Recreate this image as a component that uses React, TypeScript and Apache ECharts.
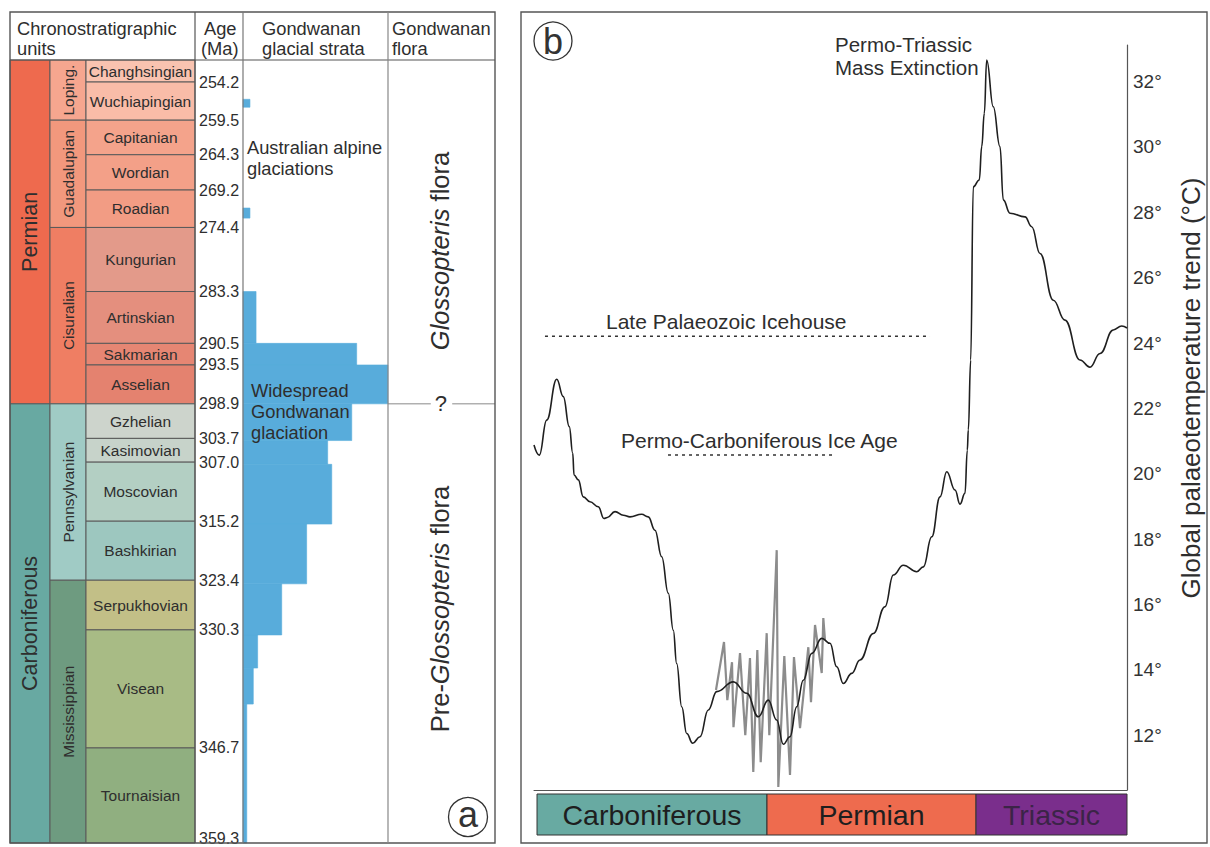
import React, { useEffect, useRef } from "react";
import * as echarts from "echarts";

const FONT = '"Liberation Sans", Arial, Helvetica, sans-serif';
const TEXT = "#2e2e2e";
const EDGE = "#5a5a5a";
const BLUE = "#58ACDB";

// ---------- Panel a : chronostratigraphy (ages in Ma) ----------
const AGE_TOP = 251.14;
const AGE_BOTTOM = 359.9;

const periodNames = ["Permian", "Carboniferous"];
const periodBases = [298.9, 359.3];
const periodColors = ["#EE6A4E", "#68A9A2"];

const epochNames = ["Loping.", "Guadalupian", "Cisuralian", "Pennsylvanian", "Mississippian"];
const epochBases = [259.5, 274.4, 298.9, 323.4, 359.3];
const epochColors = ["#F6A68F", "#F2987D", "#EF7E63", "#A0CBC5", "#6E9B80"];

const stageNames = [
  "Changhsingian", "Wuchiapingian", "Capitanian", "Wordian", "Roadian", "Kungurian",
  "Artinskian", "Sakmarian", "Asselian", "Gzhelian", "Kasimovian", "Moscovian",
  "Bashkirian", "Serpukhovian", "Visean", "Tournaisian",
];
const stageBases = [
  254.2, 259.5, 264.3, 269.2, 274.4, 283.3, 290.5, 293.5, 298.9, 303.7, 307.0, 315.2,
  323.4, 330.3, 346.7, 359.3,
];
const stageColors = [
  "#F9C3B0", "#F9BCA8", "#F4A38B", "#F3A088", "#F29C84", "#E39A8A", "#E48F7E", "#E68673",
  "#E4826F", "#CDD4CC", "#C7D3CA", "#B3CFC3", "#9DC7BF", "#C2BF87", "#A8BB85", "#90AF80",
];

// Gondwanan glacial strata: top age, base age, lateral extent (% of column)
const glacialTops = [256.6, 271.7, 283.3, 290.5, 293.5, 298.9, 304.0, 307.3, 315.6, 323.9, 331.0, 335.6, 340.6];
const glacialBases = [257.7, 273.1, 290.5, 293.5, 298.9, 304.0, 307.3, 315.6, 323.9, 331.0, 335.6, 340.6, 359.9];
const glacialExtent = [4.8, 4.8, 9, 78.4, 100, 75, 58.4, 61.2, 43.9, 26.7, 10.1, 7.1, 2.6];

const floraBoundary = 298.9;

// ---------- Panel b : palaeotemperature (relative time 0-100) ----------
const TEMP_MIN = 10.32;
const TEMP_MAX = 33.12;
const tempTicks = [12, 14, 16, 18, 20, 22, 24, 26, 28, 30, 32];

const barNames = ["Carboniferous", "Permian", "Triassic"];
const barStart = [0.51, 39.29, 74.54];
const barEnd = [39.29, 74.54, 100];
const barColors = ["#68AAA2", "#EE6B4E", "#7A2E8C"];
const barTextColors = ["#1e1e1e", "#1e1e1e", "#3b2447"];

const trendX = [
  0, 0.89, 2.14, 3.83, 4.94, 5.95, 6.53, 6.75, 7.47, 8.31, 9.44, 10.84, 11.8, 12.36, 13.66,
  15.06, 16.19, 18.16, 19.27, 20.4, 21.53, 22.65, 23.49, 24.06, 24.91, 25.75, 26.76, 27.99,
  29.39, 30.81, 33.61, 35.87, 37.83, 39.51, 40.93, 42.04, 43.17, 44.3, 45.41, 46.83, 48.52,
  49.92, 51.05, 52.16, 53.58, 54.97, 57.22, 59.19, 60.59, 62.28, 64.54, 65.65, 67.07, 68.47,
  69.6, 71.0, 71.84, 72.68, 73.07, 73.24, 73.64, 74.08, 75.09, 75.5, 75.94, 76.34, 77.45,
  78.58, 79.14, 80.27, 82.8, 83.93, 85.33, 87.57, 89.54, 92.07, 93.76, 95.45, 97.69, 99.11, 100,
];
const trendT = [
  20.88, 20.57, 21.64, 22.89, 22.36, 21.44, 20.63, 19.96, 19.81, 19.29, 19.14, 18.99, 18.63,
  18.66, 18.84, 18.73, 18.68, 18.76, 18.68, 18.27, 17.46, 16.34, 15.21, 14.19, 12.87, 12.05,
  11.75, 11.95, 12.77, 13.33, 13.63, 13.28, 12.56, 13.07, 12.46, 11.72, 11.95, 12.87, 13.68,
  14.5, 14.96, 14.81, 14.09, 13.58, 13.89, 14.3, 15.11, 15.93, 16.9, 17.2, 17.0, 17.15, 18.07,
  19.29, 20.06, 19.5, 19.07, 19.4, 20.72, 21.34, 23.48, 28.78, 28.99, 30.01, 31.03, 32.66,
  31.23, 30.01, 28.38, 27.97, 27.86, 27.56, 26.74, 25.31, 24.7, 23.48, 23.26, 23.68, 24.4,
  24.52, 24.46,
];

const fluctX = [
  30.69, 32.04, 32.6, 33.39, 33.64, 34.74, 35.63, 36.42, 36.98, 37.66, 38.23, 39.24, 39.68,
  40.93, 41.2, 42.21, 43.17, 43.84, 44.86, 46.26, 46.71, 47.39, 48.52, 48.79, 49.07,
];
const fluctT = [
  13.38, 14.85, 13.07, 14.23, 12.24, 14.51, 12.0, 14.36, 10.87, 14.6, 11.17, 15.12, 12.0,
  17.66, 10.41, 14.42, 10.78, 14.39, 12.21, 14.69, 13.01, 15.37, 13.9, 15.58, 14.91,
];

const icehouseX = [1.85, 66.78];
const icehouseT = 24.21;
const iceAgeX = [22.6, 50.93];
const iceAgeT = 20.57;

function intervals(bases: number[]) {
  const tops = [AGE_TOP, ...bases.slice(0, -1)];
  const bottoms = [...bases.slice(0, -1), AGE_BOTTOM];
  return tops.map((t, i) => [0, t, bottoms[i]]);
}

function txtStyle(text: string, size: number, fill = TEXT, extra: any = {}) {
  return {
    text,
    fill,
    fontSize: size,
    fontFamily: FONT,
    align: "center",
    verticalAlign: "middle",
    textAlign: "center",
    textVerticalAlign: "middle",
    ...extra,
  };
}

function unitSeries(gi: number, names: string[], bases: number[], fills: string[], size: number, rotate: boolean) {
  return {
    type: "custom",
    xAxisIndex: gi,
    yAxisIndex: gi,
    silent: true,
    data: intervals(bases),
    encode: { x: 0, y: [1, 2] },
    renderItem: (params: any, api: any) => {
      const i = params.dataIndex;
      const p0 = api.coord([0, api.value(1)]);
      const p1 = api.coord([1, api.value(2)]);
      const w = p1[0] - p0[0];
      const h = p1[1] - p0[1];
      return {
        type: "group",
        children: [
          { type: "rect", shape: { x: p0[0], y: p0[1], width: w, height: h }, style: { fill: fills[i], stroke: EDGE, lineWidth: 1 } },
          {
            type: "text",
            x: p0[0] + w / 2,
            y: p0[1] + h / 2,
            rotation: rotate ? Math.PI / 2 : 0,
            style: txtStyle(names[i], size),
          },
        ],
      };
    },
  };
}

function gText(x: number, y: number, text: string, size: number, extra: any = {}) {
  return {
    type: "text",
    x,
    y,
    z: 100,
    style: {
      text,
      fill: TEXT,
      fontSize: size,
      fontFamily: FONT,
      align: "left",
      verticalAlign: "middle",
      textAlign: "left",
      textVerticalAlign: "middle",
      ...extra,
    },
  };
}

function gLine(x1: number, y1: number, x2: number, y2: number, stroke = EDGE, w = 1) {
  return { type: "line", z: 100, shape: { x1, y1, x2, y2 }, style: { stroke, lineWidth: w } };
}

export default function App() {
  const ref = useRef<HTMLDivElement>(null);

  useEffect(() => {
    document.body.style.margin = "0";
    if (!ref.current) return;
    const chart = echarts.init(ref.current, null, { renderer: "svg" });

    const colGrids = [
      { left: 10, width: 40 },
      { left: 50, width: 36 },
      { left: 86, width: 109 },
      { left: 195, width: 48 },
      { left: 243, width: 145 },
      { left: 388, width: 107 },
    ];
    const grid: any[] = colGrids.map((g) => ({ ...g, top: 60, height: 783 }));
    grid.push({ left: 534, width: 593, top: 45, height: 745 });
    grid.push({ left: 534, width: 593, top: 794, height: 41 });

    const xAxis: any[] = colGrids.map((_, i) => ({
      gridIndex: i, type: "value", min: 0, max: i === 4 ? 100 : 1, show: false,
    }));
    xAxis.push({
      gridIndex: 6, type: "value", min: 0, max: 100,
      axisLine: { show: true, lineStyle: { color: "#555", width: 1 } },
      axisTick: { show: false }, axisLabel: { show: false }, splitLine: { show: false },
    });
    xAxis.push({ gridIndex: 7, type: "value", min: 0, max: 100, show: false });

    const yAxis: any[] = colGrids.map((_, i) => ({
      gridIndex: i, type: "value", min: AGE_TOP, max: AGE_BOTTOM, inverse: true, show: false,
    }));
    yAxis.push({
      gridIndex: 6, type: "value", position: "right", min: TEMP_MIN, max: TEMP_MAX,
      axisLine: { show: true, onZero: false, lineStyle: { color: "#555", width: 1.2 } },
      axisTick: { show: false },
      splitLine: { show: false },
      axisLabel: {
        customValues: tempTicks,
        formatter: (v: number) => `${v}°`,
        fontSize: 19, color: "#333", fontFamily: FONT, margin: 6,
      },
    });
    yAxis.push({ gridIndex: 7, type: "value", min: 0, max: 1, show: false });

    const series: any[] = [
      unitSeries(0, periodNames, periodBases, periodColors, 21.5, true),
      unitSeries(1, epochNames, epochBases, epochColors, 15.5, true),
      unitSeries(2, stageNames, stageBases, stageColors, 15.5, false),
      {
        type: "custom", xAxisIndex: 3, yAxisIndex: 3, silent: true,
        data: stageBases.map((v) => [0.5, v]),
        renderItem: (params: any, api: any) => {
          const p = api.coord([0.5, api.value(1)]);
          return { type: "text", x: p[0], y: p[1], style: txtStyle(stageBases[params.dataIndex].toFixed(1), 16) };
        },
      },
      {
        type: "custom", xAxisIndex: 4, yAxisIndex: 4, silent: true,
        data: glacialTops.map((t, i) => [glacialExtent[i], t, glacialBases[i]]),
        encode: { x: 0, y: [1, 2] },
        renderItem: (params: any, api: any) => {
          const p0 = api.coord([0, api.value(1)]);
          const p1 = api.coord([api.value(0), api.value(2)]);
          return {
            type: "rect",
            shape: { x: p0[0], y: p0[1], width: p1[0] - p0[0], height: p1[1] - p0[1] },
            style: { fill: BLUE, stroke: BLUE, lineWidth: 0.6 },
          };
        },
      },
      {
        type: "custom", xAxisIndex: 5, yAxisIndex: 5, silent: true,
        data: [[0, floraBoundary]],
        renderItem: (params: any, api: any) => {
          const a = api.coord([0, api.value(1)]);
          const b = api.coord([0.4, api.value(1)]);
          const c = api.coord([0.6, api.value(1)]);
          const d = api.coord([1, api.value(1)]);
          const m = api.coord([0.495, api.value(1)]);
          return {
            type: "group",
            children: [
              { type: "line", shape: { x1: a[0], y1: a[1], x2: b[0], y2: b[1] }, style: { stroke: "#8a8a8a", lineWidth: 1 } },
              { type: "line", shape: { x1: c[0], y1: c[1], x2: d[0], y2: d[1] }, style: { stroke: "#8a8a8a", lineWidth: 1 } },
              { type: "text", x: m[0], y: m[1], style: txtStyle("?", 22) },
            ],
          };
        },
      },
      {
        type: "line", xAxisIndex: 6, yAxisIndex: 6, silent: true, z: 2,
        data: fluctX.map((x, i) => [x, fluctT[i]]),
        symbol: "none", smooth: false,
        lineStyle: { color: "#8c8c8c", width: 2.2 },
      },
      {
        type: "line", xAxisIndex: 6, yAxisIndex: 6, silent: true, z: 3,
        data: trendX.map((x, i) => [x, trendT[i]]),
        symbol: "none", smooth: 0.45, smoothMonotone: "x",
        lineStyle: { color: "#1f1f1f", width: 1.6 },
      },
      {
        type: "line", xAxisIndex: 6, yAxisIndex: 6, silent: true, z: 3,
        data: icehouseX.map((x) => [x, icehouseT]),
        symbol: "none",
        lineStyle: { color: "#333", width: 1.5, type: [3, 4] },
      },
      {
        type: "line", xAxisIndex: 6, yAxisIndex: 6, silent: true, z: 3,
        data: iceAgeX.map((x) => [x, iceAgeT]),
        symbol: "none",
        lineStyle: { color: "#333", width: 1.5, type: [3, 4] },
      },
      {
        type: "custom", xAxisIndex: 7, yAxisIndex: 7, silent: true,
        data: barNames.map((_, i) => [barStart[i], barEnd[i]]),
        encode: { x: [0, 1] },
        renderItem: (params: any, api: any) => {
          const i = params.dataIndex;
          const p0 = api.coord([api.value(0), 1]);
          const p1 = api.coord([api.value(1), 0]);
          const w = p1[0] - p0[0];
          const h = p1[1] - p0[1];
          return {
            type: "group",
            children: [
              { type: "rect", shape: { x: p0[0], y: p0[1], width: w, height: h }, style: { fill: barColors[i], stroke: "#333", lineWidth: 1 } },
              { type: "text", x: p0[0] + w / 2, y: p0[1] + h / 2, style: txtStyle(barNames[i], 28.5, barTextColors[i]) },
            ],
          };
        },
      },
    ];

    const graphic: any[] = [
      // panel a frame
      { type: "rect", z: 100, shape: { x: 10, y: 12, width: 485, height: 831 }, style: { fill: "none", stroke: "#555", lineWidth: 1.4 } },
      gLine(10, 60, 495, 60, "#555", 1.2),
      gLine(195, 12, 195, 843, "#555", 1.2),
      gLine(243, 12, 243, 843, "#777", 1.2),
      gLine(388, 12, 388, 843, "#888", 1.2),
      gText(17, 28, "Chronostratigraphic", 18.3),
      gText(17, 48, "units", 18.3),
      gText(204, 28, "Age", 18.3),
      gText(201, 48, "(Ma)", 18.3),
      gText(262, 28, "Gondwanan", 18.3),
      gText(262, 48, "glacial strata", 18.3),
      gText(392, 28, "Gondwanan", 18.3),
      gText(392, 48, "flora", 18.3),
      gText(247, 147, "Australian alpine", 18.3),
      gText(247, 168, "glaciations", 18.3),
      gText(251, 390, "Widespread", 18.3),
      gText(251, 411, "Gondwanan", 18.3),
      gText(251, 432, "glaciation", 18.3),
      {
        type: "text", x: 440, y: 251, z: 100, rotation: Math.PI / 2,
        style: {
          text: "{i|Glossopteris} flora", fill: TEXT, fontSize: 25.5, fontFamily: FONT,
          align: "center", verticalAlign: "middle", textAlign: "center", textVerticalAlign: "middle",
          rich: { i: { fontStyle: "italic", fontSize: 25.5, fontFamily: FONT, fill: TEXT } },
        },
      },
      {
        type: "text", x: 440, y: 609, z: 100, rotation: Math.PI / 2,
        style: {
          text: "Pre-{i|Glossopteris} flora", fill: TEXT, fontSize: 25.5, fontFamily: FONT,
          align: "center", verticalAlign: "middle", textAlign: "center", textVerticalAlign: "middle",
          rich: { i: { fontStyle: "italic", fontSize: 25.5, fontFamily: FONT, fill: TEXT } },
        },
      },
      { type: "circle", z: 100, shape: { cx: 468, cy: 817, r: 19.5 }, style: { fill: "none", stroke: "#333", lineWidth: 1.3 } },
      { type: "text", x: 468, y: 814, z: 100, style: txtStyle("a", 36, "#333") },
      // panel b frame
      { type: "rect", z: 100, shape: { x: 521, y: 12, width: 686, height: 831 }, style: { fill: "none", stroke: "#555", lineWidth: 1.4 } },
      { type: "circle", z: 100, shape: { cx: 553, cy: 41, r: 19 }, style: { fill: "none", stroke: "#333", lineWidth: 1.3 } },
      { type: "text", x: 553, y: 41, z: 100, style: txtStyle("b", 36, "#333") },
      gText(835, 44, "Permo-Triassic", 20.5),
      gText(835, 67, "Mass Extinction", 20.5),
      gText(606, 321, "Late Palaeozoic Icehouse", 21),
      gText(621, 440, "Permo-Carboniferous Ice Age", 21),
      {
        type: "text", x: 1191, y: 388, z: 100, rotation: Math.PI / 2,
        style: txtStyle("Global palaeotemperature trend (°C)", 26, TEXT),
      },
    ];

    chart.setOption({
      animation: false,
      backgroundColor: "#ffffff",
      grid,
      xAxis,
      yAxis,
      series,
      graphic,
    });

    return () => chart.dispose();
  }, []);

  return <div ref={ref} style={{ width: 1210, height: 847 }} />;
}
